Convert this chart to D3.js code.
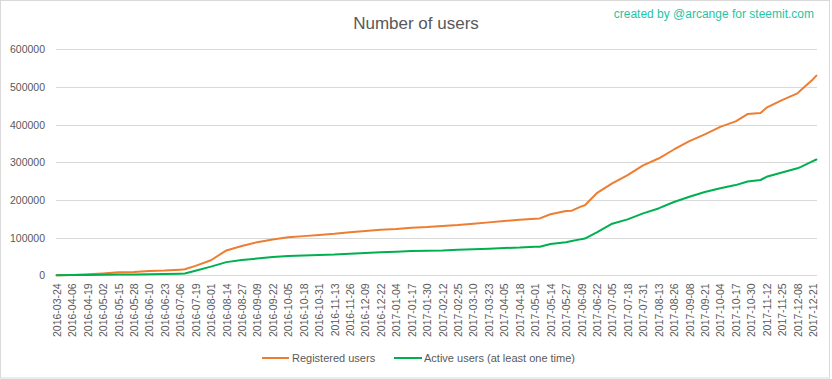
<!DOCTYPE html>
<html>
<head>
<meta charset="utf-8">
<script src="https://cdn.jsdelivr.net/npm/d3@7"></script>
<style>
  html, body { margin: 0; padding: 0; background: #fff; }
  svg { display: block; font-family: "Liberation Sans", Arial, sans-serif; }
</style>
</head>
<body>
<svg id="chart" width="832" height="379"></svg>
<script>
// ---- data ----
const dates = [
  "2016-03-24","2016-04-06","2016-04-19","2016-05-02","2016-05-15","2016-05-28","2016-06-10","2016-06-23",
  "2016-07-06","2016-07-10","2016-07-19","2016-08-01","2016-08-14","2016-08-27","2016-09-09","2016-09-22",
  "2016-10-05","2016-10-18","2016-10-31","2016-11-13","2016-11-26","2016-12-09","2016-12-22","2017-01-04",
  "2017-01-17","2017-01-30","2017-02-12","2017-02-25","2017-03-10","2017-03-23","2017-04-05","2017-04-18",
  "2017-05-01","2017-05-05","2017-05-14","2017-05-27","2017-06-01","2017-06-09","2017-06-12","2017-06-22",
  "2017-07-05","2017-07-18","2017-07-31","2017-08-13","2017-08-26","2017-09-08","2017-09-21","2017-10-04",
  "2017-10-17","2017-10-27","2017-11-07","2017-11-12","2017-11-25","2017-12-08","2017-12-11","2017-12-21",
  "2017-12-24"
];
const registered = [
  0, 1000, 2600, 5000, 8000, 9000, 11500, 12500,
  15000, 16000, 25000, 40000, 66000, 78000, 88000, 95000,
  101000, 104000, 107000, 110000, 114000, 117500, 121000, 123000,
  126000, 128000, 131000, 133500, 137000, 140500, 144000, 147500,
  150000, 151000, 162000, 170500, 171500, 183000, 186000, 218000,
  244000, 266000, 292000, 310000, 334000, 356000, 374000, 394000,
  408500, 428000, 431000, 445000, 465000, 483000, 492000, 520000,
  530000
];
const active = [
  0, 500, 1000, 1500, 2000, 2200, 2600, 3500,
  4300, 4800, 12000, 23000, 35000, 40500, 44500, 48500,
  51000, 52500, 54000, 55000, 57500, 59000, 61000, 62500,
  64500, 65000, 66000, 68000, 69000, 70500, 72500, 73500,
  75500, 76000, 83000, 88000, 91000, 96000, 97500, 114000,
  137000, 148500, 164500, 177500, 194500, 208500, 221000, 231000,
  239500, 249000, 253000, 261500, 273000, 284000, 288000, 303000,
  307500
];
const tickStart = "2016-03-24";
const tickEnd = "2017-12-21";
const tickStepDays = 13;
const yTicks = [0, 100000, 200000, 300000, 400000, 500000, 600000];
const seriesNames = ["Registered users", "Active users (at least one time)"];
const seriesColors = ["#ED7D31", "#00B050"];
const titleText = "Number of users";
const creditText = "created by @arcange for steemit.com";

// ---- chart ----
const parse = d3.utcParse("%Y-%m-%d");
const fmt = d3.utcFormat("%Y-%m-%d");
const svg = d3.select("#chart");
const W = 832, H = 379;
const plotLeft = 56, plotRight = 817, plotTop = 49.3, plotBottom = 275.3;
const DAY = 86400000;

const d0 = parse(dates[0]), d1 = parse(dates[dates.length - 1]);
const x = d3.scaleUtc()
  .domain([new Date(+d0 - DAY / 2), new Date(+d1 + DAY / 2)])
  .range([plotLeft, plotRight]);
const y = d3.scaleLinear().domain([0, 600000]).range([plotBottom, plotTop]);

// border
svg.append("rect").attr("x", 0.5).attr("y", 0.5).attr("width", W - 3).attr("height", H - 1.5)
  .attr("fill", "#fff").attr("stroke", "#D9D9D9").attr("stroke-width", 1);

// gridlines
svg.append("g").selectAll("line").data(yTicks).join("line")
  .attr("x1", plotLeft).attr("x2", plotRight)
  .attr("y1", d => Math.round(y(d)) + 0.5).attr("y2", d => Math.round(y(d)) + 0.5)
  .attr("stroke", "#D9D9D9").attr("stroke-width", 1);

// y axis labels
const yAxis = d3.axisLeft(y).tickValues(yTicks).tickSize(0).tickPadding(0).tickFormat(d3.format("d"));
const gy = svg.append("g").attr("transform", `translate(${plotLeft - 11},0)`).call(yAxis);
gy.select(".domain").remove();
gy.selectAll("text").attr("fill", "#595959").attr("font-size", "10.5px")
  .attr("font-family", "'Liberation Sans', Arial, sans-serif");

// x axis labels
const tickDates = d3.utcDay.range(parse(tickStart), new Date(+parse(tickEnd) + DAY), tickStepDays);
const xAxis = d3.axisBottom(x).tickValues(tickDates).tickSize(0).tickFormat(fmt);
const gx = svg.append("g").attr("transform", `translate(0,${plotBottom})`).call(xAxis);
gx.select(".domain").remove();
gx.selectAll("text")
  .attr("fill", "#595959").attr("font-size", "10.5px")
  .attr("font-family", "'Liberation Sans', Arial, sans-serif")
  .attr("text-anchor", "end")
  .attr("transform", "rotate(-90)")
  .attr("x", -8).attr("y", 0).attr("dy", "0.35em");

// lines
const series = [registered, active];
const line = d3.line().x((d, i) => x(parse(dates[i]))).y(d => y(d));
series.forEach((vals, k) => {
  svg.append("path").datum(vals)
    .attr("fill", "none").attr("stroke", seriesColors[k]).attr("stroke-width", 2)
    .attr("stroke-linejoin", "round").attr("stroke-linecap", "round")
    .attr("d", line);
});

// title
svg.append("text").attr("x", 416).attr("y", 29).attr("text-anchor", "middle")
  .attr("font-size", "17px").attr("fill", "#595959").text(titleText);

// credit
svg.append("text").attr("x", 814).attr("y", 18).attr("text-anchor", "end")
  .attr("font-size", "12px").attr("fill", "#26C4A4").text(creditText);

// legend
const legendItems = [
  { name: seriesNames[0], color: seriesColors[0], x1: 262, x2: 289, tx: 292 },
  { name: seriesNames[1], color: seriesColors[1], x1: 394, x2: 422, tx: 424 }
];
const lg = svg.append("g");
legendItems.forEach(it => {
  lg.append("line").attr("x1", it.x1).attr("x2", it.x2).attr("y1", 358).attr("y2", 358)
    .attr("stroke", it.color).attr("stroke-width", 2);
  lg.append("text").attr("x", it.tx).attr("y", 358).attr("dy", "0.35em")
    .attr("font-size", "11px").attr("fill", "#595959").text(it.name);
});
</script>
</body>
</html>
